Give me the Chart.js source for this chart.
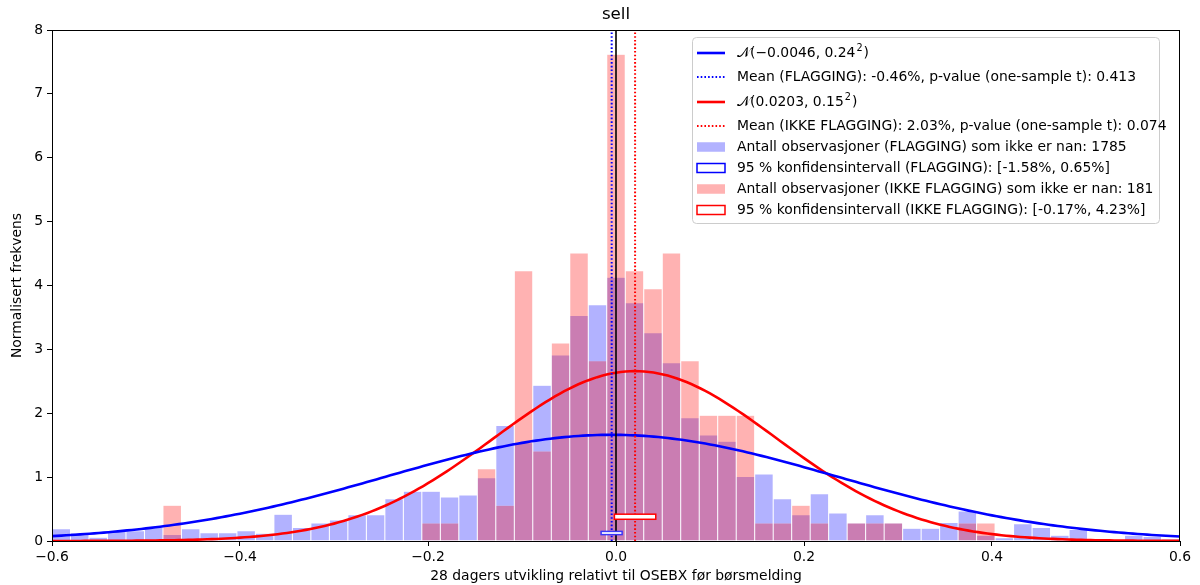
<!DOCTYPE html>
<html>
<head>
<meta charset="utf-8">
<script src="https://cdn.jsdelivr.net/npm/chart.js@4.4.1/dist/chart.umd.min.js"></script>
<style>
    body { margin: 0; background: #fff; }
    #wrap { width: 1200px; height: 585px; }
</style>
</head>
<body>
<div id="wrap"><canvas id="histChart" width="1200" height="585"></canvas></div>
<script>
(function () {
    "use strict";

    // histogram bins (61 bins over the visible range)
    var binStart = -0.6;
    var binWidth = 1.2 / 61;

    // density, FLAGGING (blue)
    var flaggingDensity = [
        0.19, 0.13, 0.06, 0.15, 0.16, 0.22, 0.10, 0.19, 0.13, 0.13,
        0.16, 0.12, 0.42, 0.21, 0.28, 0.33, 0.41, 0.41, 0.66, 0.78,
        0.78, 0.69, 0.72, 0.99, 1.81, 1.54, 2.44, 2.91, 3.53, 3.70,
        4.13, 3.73, 3.26, 2.79, 1.93, 1.66, 1.56, 1.01, 1.05, 0.66,
        0.41, 0.74, 0.44, 0.28, 0.41, 0.28, 0.20, 0.20, 0.29, 0.47,
        0.09, 0.05, 0.27, 0.21, 0.09, 0.18, 0.00, 0.00, 0.09, 0.07,
        0.03
    ];

    // density, IKKE FLAGGING (red)
    var ikkeDensity = [
        0, 0, 0, 0, 0, 0, 0.56, 0, 0, 0,
        0, 0, 0, 0, 0, 0, 0, 0, 0, 0,
        0.28, 0.28, 0, 1.13, 0.56, 4.23, 1.41, 3.10, 4.51, 2.82,
        7.62, 4.23, 3.95, 4.51, 2.82, 1.97, 1.97, 1.97, 0.28, 0.28,
        0.56, 0.28, 0, 0.28, 0.28, 0.28, 0, 0, 0, 0.28,
        0.28, 0, 0, 0, 0, 0, 0, 0, 0, 0,
        0
    ];

    var normFlagging = { mu: -0.0046, sigma: 0.24 };
    var normIkke = { mu: 0.0203, sigma: 0.15 };
    var meanFlagging = -0.0046;
    var meanIkke = 0.0203;
    var ciFlagging = [-0.0158, 0.0065];
    var ciIkke = [-0.0017, 0.0423];

    var legendTexts = [
        ["\u{1D4A9}(\u22120.0046, 0.24", "2", ")"],
        "Mean (FLAGGING): -0.46%, p-value (one-sample t): 0.413",
        ["\u{1D4A9}(0.0203, 0.15", "2", ")"],
        "Mean (IKKE FLAGGING): 2.03%, p-value (one-sample t): 0.074",
        "Antall observasjoner (FLAGGING) som ikke er nan: 1785",
        "95 % konfidensintervall (FLAGGING): [-1.58%, 0.65%]",
        "Antall observasjoner (IKKE FLAGGING) som ikke er nan: 181",
        "95 % konfidensintervall (IKKE FLAGGING): [-0.17%, 4.23%]"
    ];

    var FONT = "DejaVu Sans";
    var DOTS = [1.6, 2.1];

    var centers = flaggingDensity.map(function (_, i) {
        return binStart + binWidth * (i + 0.5);
    });

    function pdfCurve(p) {
        var pts = [];
        for (var k = 0; k <= 240; k++) {
            var x = -0.6 + k * 0.005;
            var z = (x - p.mu) / p.sigma;
            pts.push({ x: x, y: Math.exp(-0.5 * z * z) / (p.sigma * Math.sqrt(2 * Math.PI)) });
        }
        return pts;
    }

    function vline(x) {
        return [{ x: x, y: 0 }, { x: x, y: 8 }];
    }

    // ramme, CI-bokser, tittel og legend
    var extras = {
        id: "extras",
        afterDatasetsDraw: function (chart) {
            var c = chart.ctx, xs = chart.scales.x, ys = chart.scales.y;
            function box(ci, y0, y1, color) {
                var l = xs.getPixelForValue(ci[0]), r = xs.getPixelForValue(ci[1]);
                var t = ys.getPixelForValue(y1), b = ys.getPixelForValue(y0);
                c.save();
                c.fillStyle = "#fff";
                c.fillRect(l, t, r - l, b - t);
                c.strokeStyle = color;
                c.lineWidth = 1.5;
                c.strokeRect(l, t, r - l, b - t);
                c.restore();
            }
            box(ciIkke, 0.34, 0.42, "red");
            box(ciFlagging, 0.10, 0.15, "rgba(40,40,255,0.9)");
        },
        afterDraw: function (chart) {
            var c = chart.ctx, ca = chart.chartArea;
            c.save();
            c.strokeStyle = "#000";
            c.lineWidth = 1;
            c.strokeRect(Math.round(ca.left) + 0.5, Math.round(ca.top) + 0.5,
                Math.round(ca.right - ca.left) - 1, Math.round(ca.bottom - ca.top));

            c.fillStyle = "#000";
            c.font = "16.7px '" + FONT + "'";
            c.textAlign = "center";
            c.textBaseline = "middle";
            c.fillText("sell", (ca.left + ca.right) / 2, 15);

            // legend
            var L = ca.right - 488, T = ca.top + 7, W = 467, H = 186;
            c.beginPath();
            c.roundRect(L + 0.5, T + 0.5, W, H, 4);
            c.fillStyle = "rgba(255,255,255,0.8)";
            c.fill();
            c.strokeStyle = "#cccccc";
            c.lineWidth = 1;
            c.stroke();

            var rows = [16, 40, 65, 89, 110, 131, 152, 173];
            var hx0 = L + 5, hx1 = L + 33, tx = L + 45;
            rows.forEach(function (dy, i) {
                var y = T + dy;
                c.save();
                if (i < 4) {
                    c.strokeStyle = i < 2 ? "blue" : "red";
                    if (i % 2 === 0) {
                        c.lineWidth = 2.6;
                    } else {
                        c.lineWidth = 2;
                        c.setLineDash(DOTS);
                    }
                    c.beginPath();
                    c.moveTo(hx0, y);
                    c.lineTo(hx1, y);
                    c.stroke();
                } else {
                    var blue = i < 6;
                    if (i % 2 === 0) {
                        c.fillStyle = blue ? "rgba(0,0,255,0.3)" : "rgba(255,0,0,0.3)";
                        c.fillRect(hx0, y - 4.75, hx1 - hx0, 9.5);
                    } else {
                        c.fillStyle = "#fff";
                        c.fillRect(hx0, y - 4.5, hx1 - hx0, 9);
                        c.strokeStyle = blue ? "blue" : "red";
                        c.lineWidth = 1.5;
                        c.strokeRect(hx0, y - 4.5, hx1 - hx0, 9);
                    }
                }
                c.restore();

                var t = legendTexts[i];
                c.fillStyle = "#000";
                c.textAlign = "left";
                c.textBaseline = "middle";
                c.font = "13.9px '" + FONT + "'";
                if (typeof t === "string") {
                    c.fillText(t, tx, y);
                } else {
                    c.fillText(t[0], tx, y);
                    var w = c.measureText(t[0]).width;
                    c.font = "9.7px '" + FONT + "'";
                    c.fillText(t[1], tx + w + 1, y - 5);
                    var w2 = c.measureText(t[1]).width;
                    c.font = "13.9px '" + FONT + "'";
                    c.fillText(t[2], tx + w + w2 + 2, y);
                }
            });
            c.restore();
        }
    };

    function tickFmt(v) {
        var s = Number(v).toFixed(1);
        if (s === "-0.0") s = "0.0";
        return s.replace("-", "\u2212");
    }

    Chart.defaults.font.family = FONT;
    Chart.defaults.font.size = 13.9;
    Chart.defaults.color = "#000";

    var ctx = document.getElementById("histChart").getContext("2d");
    new Chart(ctx, {
        type: "bar",
        data: {
            datasets: [
                {
                    type: "line",
                    label: "N flagging",
                    data: pdfCurve(normFlagging),
                    borderColor: "blue",
                    borderWidth: 2.6,
                    pointRadius: 0,
                    tension: 0,
                    order: 3
                },
                {
                    type: "line",
                    label: "Mean flagging",
                    data: vline(meanFlagging),
                    borderColor: "blue",
                    borderWidth: 2,
                    borderDash: DOTS,
                    pointRadius: 0,
                    order: 2
                },
                {
                    type: "line",
                    label: "N ikke",
                    data: pdfCurve(normIkke),
                    borderColor: "red",
                    borderWidth: 2.6,
                    pointRadius: 0,
                    tension: 0,
                    order: 3
                },
                {
                    type: "line",
                    label: "Mean ikke",
                    data: vline(meanIkke),
                    borderColor: "red",
                    borderWidth: 2,
                    borderDash: DOTS,
                    pointRadius: 0,
                    order: 2
                },
                {
                    type: "line",
                    label: "Null",
                    data: vline(0),
                    borderColor: "#000",
                    borderWidth: 1.6,
                    pointRadius: 0,
                    order: 1
                },
                {
                    label: "Antall observasjoner (FLAGGING)",
                    data: centers.map(function (x, i) { return { x: x, y: flaggingDensity[i] }; }),
                    backgroundColor: "rgba(0,0,255,0.3)",
                    borderColor: "rgba(255,255,255,0.25)",
                    borderWidth: { left: 0.5, right: 0.5, top: 0.5, bottom: 0 },
                    order: 10
                },
                {
                    label: "Antall observasjoner (IKKE FLAGGING)",
                    data: centers.map(function (x, i) { return { x: x, y: ikkeDensity[i] }; }),
                    backgroundColor: "rgba(255,0,0,0.3)",
                    borderColor: "rgba(255,255,255,0.25)",
                    borderWidth: { left: 0.5, right: 0.5, top: 0.5, bottom: 0 },
                    order: 9
                }
            ]
        },
        options: {
            responsive: false,
            animation: false,
            devicePixelRatio: 1,
            layout: { padding: { top: 30, right: 20, left: 0, bottom: 0 } },
            datasets: {
                bar: { grouped: false, barPercentage: 1, categoryPercentage: 1, inflateAmount: 0 }
            },
            plugins: {
                legend: { display: false },
                tooltip: { enabled: false }
            },
            scales: {
                x: {
                    type: "linear",
                    min: -0.6,
                    max: 0.6,
                    offset: false,
                    grid: { offset: false, drawOnChartArea: false, tickLength: 5, tickColor: "#000", tickWidth: 1 },
                    border: { display: false },
                    ticks: { stepSize: 0.2, padding: 3, callback: tickFmt },
                    title: { display: true, text: "28 dagers utvikling relativt til OSEBX før børsmelding", padding: 0 },
                    afterFit: function (s) { s.height = 44; }
                },
                y: {
                    min: 0,
                    max: 8,
                    grid: { drawOnChartArea: false, tickLength: 5, tickColor: "#000", tickWidth: 1 },
                    border: { display: false },
                    ticks: { stepSize: 1, padding: 4 },
                    title: { display: true, text: "Normalisert frekvens", padding: { top: 9, bottom: 0 } },
                    afterFit: function (s) { s.width = 52; }
                }
            }
        },
        plugins: [extras]
    });
})();
</script>
</body>
</html>
